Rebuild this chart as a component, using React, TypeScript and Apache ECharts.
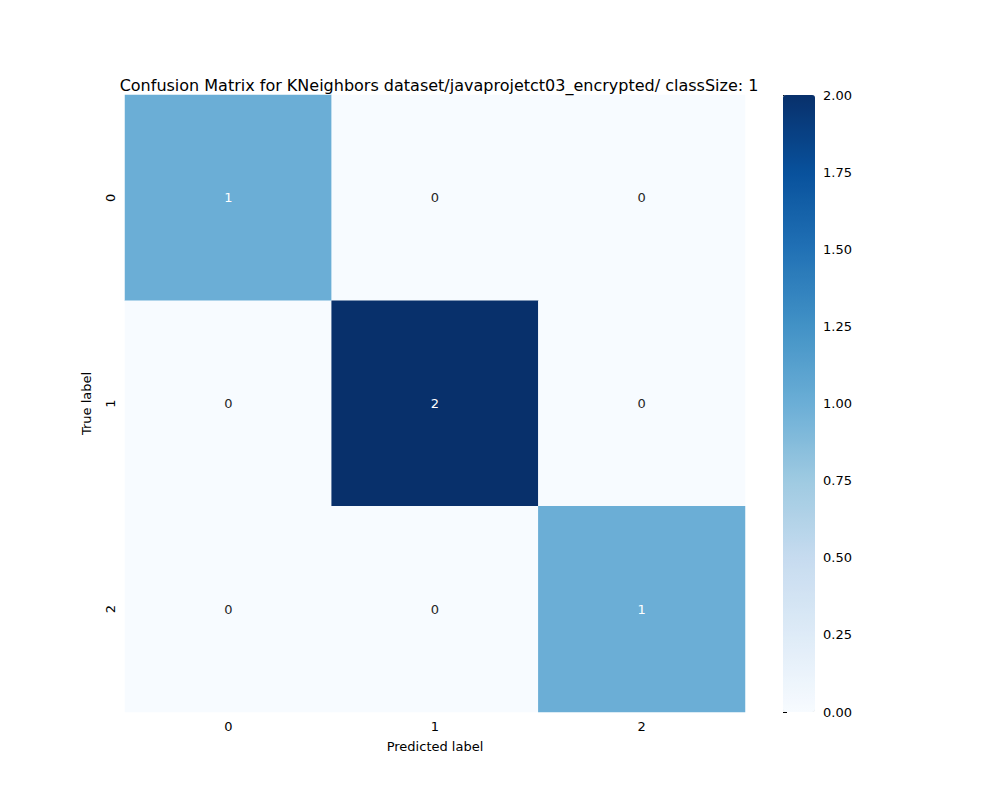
import * as echarts from 'echarts'
import { useEffect, useRef } from 'react'

const xLabels = ['0', '1', '2']
const yLabels = ['0', '1', '2']
// [row][col]
const matrix = [
  [1, 0, 0],
  [0, 2, 0],
  [0, 0, 1],
]
const barTicks = [0, 0.25, 0.5, 0.75, 1, 1.25, 1.5, 1.75, 2]
const blues = ['#f7fbff', '#deebf7', '#c6dbef', '#9ecae1', '#6baed6', '#4292c6', '#2171b5', '#08519c', '#08306b']

const font = 'DejaVu Sans'

const App = () => {
  const chartRef = useRef<HTMLDivElement | null>(null)
  useEffect(() => {
    document.body.style.margin = '0'
    if (!chartRef.current) return
    const chart = echarts.init(chartRef.current, null, { renderer: 'svg' })
    const data: number[][] = []
    matrix.forEach((row, r) => row.forEach((v, c) => data.push([c, r, v])))
    chart.setOption({
      animation: false,
      textStyle: { fontFamily: font },
      title: {
        text: 'Confusion Matrix for KNeighbors dataset/javaprojetct03_encrypted/ classSize: 1',
        left: 434, top: 72, textAlign: 'center',
        textStyle: { fontSize: 16, fontWeight: 'normal', color: '#000', fontFamily: font },
      },
      grid: [
        { left: 125, top: 95, width: 620, height: 617 },
        { left: 783, top: 95, width: 32, height: 617 },
      ],
      xAxis: [
        {
          type: 'category', data: xLabels, gridIndex: 0,
          name: 'Predicted label', nameLocation: 'middle', nameGap: 28,
          nameTextStyle: { fontSize: 13, color: '#000' },
          axisLine: { show: false },
          axisTick: { length: 4, lineStyle: { color: '#000' } },
          axisLabel: { fontSize: 13, color: '#000', margin: 8 },
          splitArea: { show: false },
        },
        { type: 'value', gridIndex: 1, show: false },
      ],
      yAxis: [
        {
          type: 'category', data: yLabels, gridIndex: 0, inverse: true,
          name: 'True label', nameLocation: 'middle', nameGap: 32,
          nameTextStyle: { fontSize: 13, color: '#000' },
          axisLine: { show: false },
          axisTick: { length: 4, lineStyle: { color: '#000' } },
          axisLabel: { fontSize: 13, color: '#000', rotate: 90, margin: 8 },
        },
        {
          type: 'value', gridIndex: 1, position: 'right', min: 0, max: 2, interval: 0.25,
          axisLine: { show: false },
          axisTick: { show: true, length: 4, lineStyle: { color: '#000' } },
          splitLine: { show: false },
          axisLabel: {
            fontSize: 13, color: '#000', margin: 8,
            formatter: (v: number) => (barTicks.includes(v) ? v.toFixed(2) : ''),
          },
        },
      ],
      visualMap: {
        type: 'continuous', min: 0, max: 2, seriesIndex: 0,
        left: 783, top: 95, itemWidth: 32, itemHeight: 617, padding: 0,
        calculable: false, text: ['', ''], showLabel: false,
        inRange: { color: blues },
      },
      series: [
        {
          type: 'heatmap', xAxisIndex: 0, yAxisIndex: 0, data,
          label: {
            show: true, fontSize: 13, fontFamily: font,
            color: '#262626',
            formatter: (p: any) => String(p.value[2]),
            rich: {},
          },
          itemStyle: { borderWidth: 0 },
        },
      ],
    })
    // white text on dark cells
    chart.setOption({
      series: [{
        data: data.map((d) => ({
          value: d,
          label: { color: d[2] >= 1 ? '#fff' : '#262626' },
        })),
      }],
    })
    return () => chart.dispose()
  }, [])
  return <div ref={chartRef} style={{ width: 1000, height: 800 }}></div>
}

export default App
